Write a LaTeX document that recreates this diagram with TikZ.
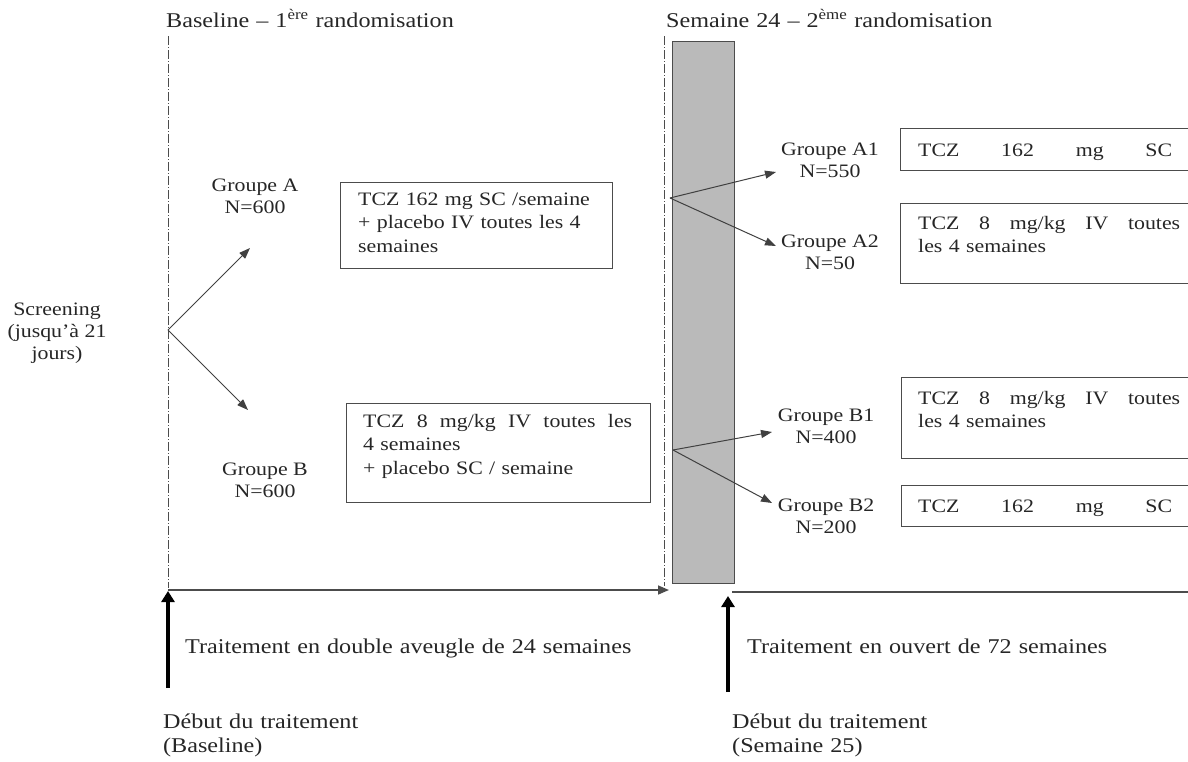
\documentclass[tikz,border=0pt]{standalone}
\usepackage{fontspec}
\setmainfont[FakeStretch=1.15]{Liberation Serif}
\usetikzlibrary{arrows.meta}
\newcommand{\spreadline}[2]{\hbox to #1{#2}}
\begin{document}
\begin{tikzpicture}[x=1pt,y=-1pt,
  lbl/.style={align=center,font=\fontsize{19}{22}\selectfont,text=black!85,inner sep=0pt},
  frame/.style={draw=black!70,line width=1.3pt,anchor=north west,inner sep=0pt},
  boxtext/.style={anchor=base west,align=left,inner sep=0pt,font=\fontsize{19}{23.5}\selectfont,text=black!85},
  big/.style={anchor=base west,align=left,inner sep=0pt,text width=700pt,font=\fontsize{21}{24}\selectfont,text=black!85},
  conn/.style={draw=black!75,line width=1pt,-{Triangle[length=11pt,width=8pt]}},
  divider/.style={draw=black!70,line width=0.8pt,dash pattern=on 9pt off 2pt on 1pt off 2pt},
  timeline/.style={draw=black!70,line width=1.6pt},
  uparrow/.style={line width=3.8pt,-{Triangle[length=11pt,width=13pt]}}
]
\useasboundingbox (0,0) rectangle (1188,761);
\clip (0,0) rectangle (1188,761);

% headers
\node[big] (h1) at (166,27) {Baseline -- 1\textsuperscript{ère} randomisation};
\node[big] (h2) at (666,27) {Semaine 24 -- 2\textsuperscript{ème} randomisation};

% dividers
\coordinate (d1t) at (168,36); \coordinate (d1b) at (168,588);
\coordinate (d2t) at (664,36); \coordinate (d2b) at (664,586);
\draw[divider] (d1t) -- (d1b);
\draw[divider] (d2t) -- (d2b);

% grey bar
\node[frame,fill=black!27,minimum width=62pt,minimum height=542pt] (bar) at (672,41) {};

% labels
\node[lbl] (scr) at (57,333) {Screening\\(jusqu'à 21\\jours)};
\node[lbl] (gA) at (255,196) {Groupe A\\N=600};
\node[lbl] (gB) at (265,480) {Groupe B\\N=600};
\node[lbl] (gA1) at (830,160) {Groupe A1\\N=550};
\node[lbl] (gA2) at (830,252) {Groupe A2\\N=50};
\node[lbl] (gB1) at (826,426) {Groupe B1\\N=400};
\node[lbl] (gB2) at (826,516) {Groupe B2\\N=200};

% boxes
\node[frame,minimum width=272pt,minimum height=86pt] (bA) at (340,182) {};
\node[frame,minimum width=304pt,minimum height=99pt] (bB) at (346,403) {};
\node[frame,minimum width=330pt,minimum height=42pt] (bA1) at (900,128) {};
\node[frame,minimum width=330pt,minimum height=80pt] (bA2) at (900,203) {};
\node[frame,minimum width=330pt,minimum height=81pt] (bB1) at (901,377) {};
\node[frame,minimum width=330pt,minimum height=41pt] (bB2) at (901,485) {};

\node[boxtext,text width=240pt] (tA) at (358,205) {TCZ 162 mg SC /semaine\\+ placebo IV toutes les 4\\semaines};
\node[boxtext,text width=284pt] (tB) at (363,427) {\spreadline{269pt}{TCZ\hfil 8\hfil mg/kg\hfil IV\hfil toutes\hfil les}\\4 semaines\\+ placebo SC / semaine};
\node[boxtext,text width=262pt] (tA1) at (918,156) {\spreadline{254pt}{TCZ\hfil 162\hfil mg\hfil SC}};
\node[boxtext,text width=270pt] (tA2) at (918,229) {\spreadline{262pt}{TCZ\hfil 8\hfil mg/kg\hfil IV\hfil toutes}\\les 4 semaines};
\node[boxtext,text width=270pt] (tB1) at (918,404) {\spreadline{262pt}{TCZ\hfil 8\hfil mg/kg\hfil IV\hfil toutes}\\les 4 semaines};
\node[boxtext,text width=262pt] (tB2) at (918,512) {\spreadline{254pt}{TCZ\hfil 162\hfil mg\hfil SC}};

% connectors
\coordinate (s0) at (168,330);
\coordinate (eA) at (250,248); \coordinate (eB) at (248,410);
\draw[conn] (s0) -- (eA);
\draw[conn] (s0) -- (eB);
\coordinate (s1) at (670,198);
\coordinate (eA1) at (776,172); \coordinate (eA2) at (776,246);
\draw[conn] (s1) -- (eA1);
\draw[conn] (s1) -- (eA2);
\coordinate (s2) at (673,450);
\coordinate (eB1) at (772,432); \coordinate (eB2) at (772,503);
\draw[conn] (s2) -- (eB1);
\draw[conn] (s2) -- (eB2);

% timeline
\coordinate (tl0) at (168,590); \coordinate (tl1) at (669,590);
\draw[timeline,-{Triangle[length=11pt,width=9pt]}] (tl0) -- (tl1);
\coordinate (tr0) at (732,592); \coordinate (tr1) at (1188,592);
\draw[timeline] (tr0) -- (tr1);

\coordinate (u1b) at (168,688); \coordinate (u1t) at (168,591);
\draw[uparrow] (u1b) -- (u1t);
\coordinate (u2b) at (728,692); \coordinate (u2t) at (728,596);
\draw[uparrow] (u2b) -- (u2t);

% bottom texts
\node[big] (p1) at (185,653) {Traitement en double aveugle de 24 semaines};
\node[big] (p2) at (747,653) {Traitement en ouvert de 72 semaines};
\node[big] (db1) at (163,728) {Début du traitement\\(Baseline)};
\node[big] (db2) at (732,728) {Début du traitement\\(Semaine 25)};
\end{tikzpicture}
\end{document}
